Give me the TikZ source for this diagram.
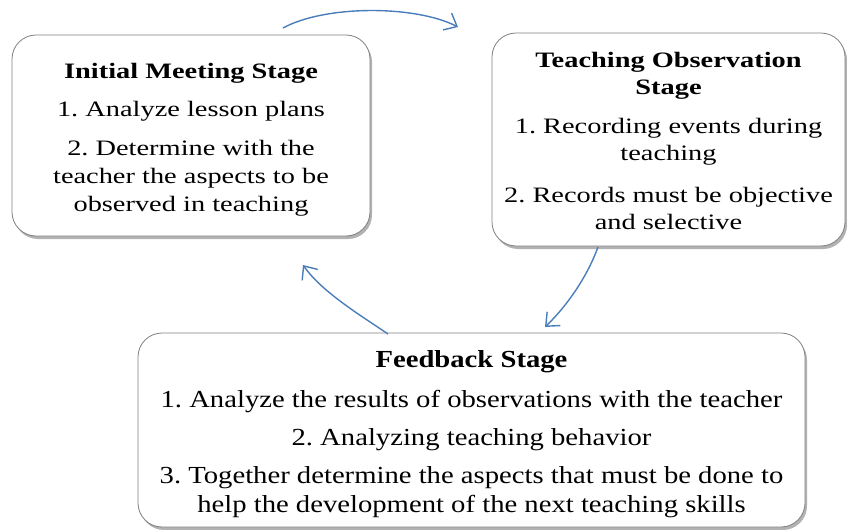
\documentclass[tikz,border=0pt]{standalone}
\usepackage{fontspec}
\setmainfont{Liberation Serif}[FakeStretch=1.29]
\newfontfamily\fbfont{Liberation Serif}[FakeStretch=1.17]
\frenchspacing
\usetikzlibrary{arrows.meta,shadows}
\definecolor{arrowblue}{HTML}{4A7EBB}
\definecolor{boxline}{HTML}{808080}
\begin{document}
\begin{tikzpicture}[x=1pt,y=-1pt,
  stagebox/.style={draw=boxline, line width=0.8pt, fill=white, rounded corners=24pt,
    inner sep=0pt,
    drop shadow={shadow xshift=2pt, shadow yshift=-3pt, fill=black, opacity=0.3}},
  stagetext/.style={align=center, inner sep=0pt, font=\fontsize{22}{28}\selectfont},
  flow/.style={draw=arrowblue, line width=1.4pt, -{Straight Barb[length=11pt,width=19pt]}}]
\useasboundingbox (0,0) rectangle (847,530);

\node[stagebox, minimum width=358pt, minimum height=201pt] (initial) at (191,135.5) {};
\node[stagetext] (initialtext) at ([yshift=-4pt]initial.center)
  {\textbf{Initial Meeting Stage}\\[10pt]
   1. Analyze lesson plans\\[11pt]
   2. Determine with the\\
   teacher the aspects to be\\
   observed in teaching};

\node[stagebox, minimum width=353pt, minimum height=213pt] (observe) at (668.5,139.5) {};
\node[stagetext, font=\fontsize{22}{27}\selectfont] (observetext) at ([yshift=-1pt]observe.center)
  {\textbf{Teaching Observation}\\
   \textbf{Stage}\\[12pt]
   1. Recording events during\\
   teaching\\[15pt]
   2. Records must be objective\\
   and selective};

\node[stagebox, minimum width=667pt, minimum height=194pt] (feedback) at (471.5,430) {};
\node[stagetext, font=\fontsize{24.5}{29}\fbfont] (feedbacktext) at ([yshift=-4pt]feedback.center)
  {\textbf{Feedback Stage}\\[11pt]
   1. Analyze the results of observations with the teacher\\[9pt]
   2. Analyzing teaching behavior\\[9pt]
   3. Together determine the aspects that must be done to\\
   help the development of the next teaching skills};

\coordinate (s1) at (283,28);
\coordinate (e1) at (458,27);
\coordinate (s2) at (598,247);
\coordinate (e2) at (545,327);
\coordinate (s3) at (388,334);
\coordinate (e3) at (303,265);

\draw[flow] (s1) .. controls (325,5) and (415,5) .. (e1);
\draw[flow] (s2) .. controls (588,275) and (568,305) .. (e2);
\draw[flow] (s3) .. controls (360,315) and (322,292) .. (e3);
\end{tikzpicture}
\end{document}
